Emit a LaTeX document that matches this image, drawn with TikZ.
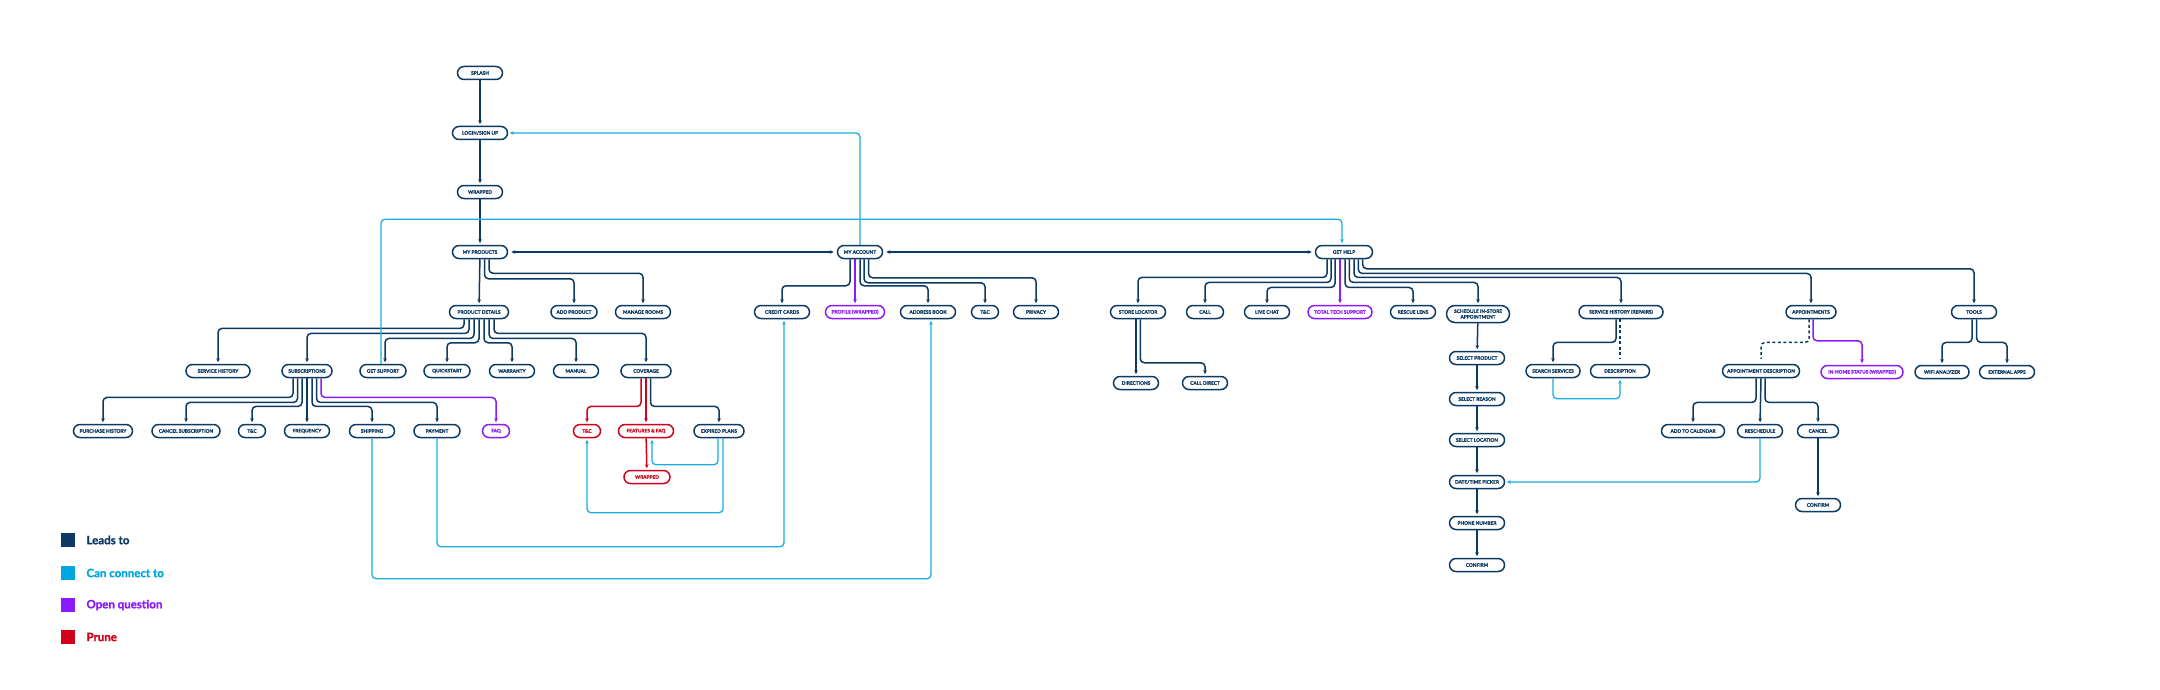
\documentclass[tikz,border=0pt]{standalone}
\usepackage{fontspec}
\setmainfont{Lato}[BoldFeatures={FakeBold=1.2}]
\usetikzlibrary{arrows.meta}
\definecolor{navy}{HTML}{0D3A62}
\definecolor{cyanl}{HTML}{1AADE4}
\definecolor{cyansq}{HTML}{00A6E0}
\definecolor{purp}{HTML}{8C1AFF}
\definecolor{prune}{HTML}{D0021B}
\tikzset{
  box/.style={draw=navy, text=navy, fill=white, rounded corners=6.5pt, minimum height=13pt,
    inner sep=0pt, line width=1.5pt, font=\fontsize{4.8}{5.6}\selectfont\bfseries, align=center},
  pbox/.style={box, draw=purp, text=purp},
  rbox/.style={box, draw=prune, text=prune},
  tip/.style={-{Stealth[length=4pt,width=3.6pt]}},
  lead/.style={draw=navy, line width=1.5pt, rounded corners=4pt, tip, shorten >=1.5pt},
  both/.style={draw=navy, line width=1.5pt, {Stealth[length=4pt,width=3.6pt]}-{Stealth[length=4pt,width=3.6pt]}, shorten >=3pt, shorten <=3pt},
  can/.style={lead, draw=cyanl, line width=1.3pt},
  openq/.style={lead, draw=purp},
  prn/.style={lead, draw=prune},
  dashlead/.style={draw=navy, line width=1.5pt, dash pattern=on 3pt off 2.5pt, rounded corners=4pt, shorten >=5pt},
  legsq/.style={minimum size=14pt, inner sep=0pt},
  legtx/.style={anchor=west, font=\fontsize{11.5}{13}\selectfont\bfseries},
}
\begin{document}
\begin{tikzpicture}[x=1pt,y=-1pt]
\useasboundingbox[fill=white] (0,0) rectangle (2160,690);

% main column
\node[box, minimum width=45pt] (splash) at (480,73) {SPLASH};
\node[box, minimum width=55pt] (login) at (480,133) {LOGIN/SIGN UP};
\node[box, minimum width=45pt] (wrapped) at (480,192) {WRAPPED};
\node[box, minimum width=55pt] (myprod) at (480,252) {MY PRODUCTS};
\node[box, minimum width=45pt] (myacc) at (860,252) {MY ACCOUNT};
\node[box, minimum width=57pt] (gethelp) at (1344,252) {GET HELP};

% level 2
\node[box, minimum width=59pt] (pd) at (479,312) {PRODUCT DETAILS};
\node[box, minimum width=46pt] (addprod) at (574,312) {ADD PRODUCT};
\node[box, minimum width=55pt] (rooms) at (643,312) {MANAGE ROOMS};
\node[box, minimum width=55pt] (cc) at (782,312) {CREDIT CARDS};
\node[pbox, minimum width=59pt] (profile) at (855,312) {PROFILE (WRAPPED)};
\node[box, minimum width=55pt] (addr) at (928,312) {ADDRESS BOOK};
\node[box, minimum width=27pt] (atc) at (985,312) {T\&C};
\node[box, minimum width=45pt] (privacy) at (1036,312) {PRIVACY};
\node[box, minimum width=55pt] (store) at (1138,312) {STORE LOCATOR};
\node[box, minimum width=37pt] (call) at (1205,312) {CALL};
\node[box, minimum width=45pt] (chat) at (1267,312) {LIVE CHAT};
\node[pbox, minimum width=64pt] (tts) at (1340,312) {TOTAL TECH SUPPORT};
\node[box, minimum width=45pt] (rescue) at (1413,312) {RESCUE LENS};
\node[box, minimum width=63pt, minimum height=17pt, rounded corners=8.5pt] (sched) at (1478,314) {SCHEDULE IN-STORE\\APPOINTMENT};
\node[box, minimum width=84pt] (shr) at (1621,312) {SERVICE HISTORY (REPAIRS)};
\node[box, minimum width=50pt] (appts) at (1811,312) {APPOINTMENTS};
\node[box, minimum width=45pt] (tools) at (1974,312) {TOOLS};

% level 3
\node[box, minimum width=64pt] (sh) at (218,371) {SERVICE HISTORY};
\node[box, minimum width=50pt] (subs) at (307,371) {SUBSCRIPTIONS};
\node[box, minimum width=46pt] (gs) at (383,371) {GET SUPPORT};
\node[box, minimum width=46pt] (qs) at (447,371) {QUICKSTART};
\node[box, minimum width=45pt] (warr) at (512,371) {WARRANTY};
\node[box, minimum width=45pt] (manual) at (576,371) {MANUAL};
\node[box, minimum width=50pt] (cov) at (646,371) {COVERAGE};
\node[box, minimum width=45pt] (dirs) at (1136,383) {DIRECTIONS};
\node[box, minimum width=45pt] (calld) at (1205,383) {CALL DIRECT};
\node[box, minimum width=54pt] (ss) at (1553,371) {SEARCH SERVICES};
\node[box, minimum width=59pt] (desc) at (1620,371) {DESCRIPTION};
\node[box, minimum width=77pt] (ad) at (1761,371) {APPOINTMENT DESCRIPTION};
\node[pbox, minimum width=82pt] (ihs) at (1862,372) {IN-HOME STATUS (WRAPPED)};
\node[box, minimum width=54pt] (wifi) at (1942,372) {WIFI ANALYZER};
\node[box, minimum width=55pt] (ext) at (2007,372) {EXTERNAL APPS};

% schedule chain
\node[box, minimum width=55pt] (sp) at (1477,358) {SELECT PRODUCT};
\node[box, minimum width=55pt] (sr) at (1477,399) {SELECT REASON};
\node[box, minimum width=55pt] (sl) at (1477,440) {SELECT LOCATION};
\node[box, minimum width=55pt] (dt) at (1477,482) {DATE/TIME PICKER};
\node[box, minimum width=55pt] (pn) at (1477,523) {PHONE NUMBER};
\node[box, minimum width=55pt] (conf) at (1477,565) {CONFIRM};

% level 4
\node[box, minimum width=59pt] (ph) at (103,431) {PURCHASE HISTORY};
\node[box, minimum width=68pt] (cancelsub) at (186,431) {CANCEL SUBSCRIPTION};
\node[box, minimum width=27pt] (stc) at (252,431) {T\&C};
\node[box, minimum width=45pt] (freq) at (307,431) {FREQUENCY};
\node[box, minimum width=45pt] (ship) at (372,431) {SHIPPING};
\node[box, minimum width=46pt] (pay) at (437,431) {PAYMENT};
\node[pbox, minimum width=27pt] (faq) at (496,431) {FAQ};
\node[rbox, minimum width=27pt] (ctc) at (587,431) {T\&C};
\node[rbox, minimum width=55pt] (ffaq) at (646,431) {FEATURES \& FAQ};
\node[box, minimum width=50pt] (exp) at (719,431) {EXPIRED PLANS};
\node[rbox, minimum width=46pt] (wrapr) at (647,477) {WRAPPED};
\node[box, minimum width=63pt] (addcal) at (1693,431) {ADD TO CALENDAR};
\node[box, minimum width=45pt] (resch) at (1760,431) {RESCHEDULE};
\node[box, minimum width=41pt] (cancel) at (1818,431) {CANCEL};
\node[box, minimum width=45pt] (confirm2) at (1818,505) {CONFIRM};

% ---------- navy edges
\draw[lead] (splash) -- (login);
\draw[lead] (login) -- (wrapped);
\draw[lead] (wrapped) -- (myprod);
\draw[both] (myprod.east) -- (myacc.west);
\draw[both] (myacc.east) -- (gethelp.west);

\draw[lead] (myprod) -- (pd);
\draw[lead] ([xshift=4.5pt]myprod.south) -- ++(0,19.5) -| (addprod.north);
\draw[lead] ([xshift=9pt]myprod.south) -- ++(0,14) -| (rooms.north);

\draw[lead] ([xshift=-15pt]pd.south) -- ++(0,9.2) -| (sh.north);
\draw[lead] ([xshift=-10pt]pd.south) -- ++(0,14.2) -| (subs.north);
\draw[lead] ([xshift=-5pt]pd.south) -- ++(0,19.2) -| ([xshift=2pt]gs.north);
\draw[lead] ([xshift=0pt]pd.south) -- ++(0,23.5) -| (qs.north);
\draw[lead] ([xshift=5pt]pd.south) -- ++(0,23.5) -| (warr.north);
\draw[lead] ([xshift=10pt]pd.south) -- ++(0,19.2) -| (manual.north);
\draw[lead] ([xshift=15pt]pd.south) -- ++(0,14.2) -| (cov.north);

\draw[lead] ([xshift=-14pt]subs.south) -- ++(0,19.2) -| (ph.north);
\draw[lead] ([xshift=-9.5pt]subs.south) -- ++(0,24.2) -| (cancelsub.north);
\draw[lead] ([xshift=-5pt]subs.south) -- ++(0,28.2) -| (stc.north);
\draw[lead] (subs) -- (freq);
\draw[lead] ([xshift=5pt]subs.south) -- ++(0,28.2) -| (ship.north);
\draw[lead] ([xshift=9.5pt]subs.south) -- ++(0,24.2) -| (pay.north);
\draw[openq] ([xshift=14pt]subs.south) -- ++(0,19.2) -| (faq.north);

\draw[prn] ([xshift=-5pt]cov.south) -- ++(0,28.2) -| (ctc.north);
\draw[prn] (cov) -- (ffaq);
\draw[lead] ([xshift=4.5pt]cov.south) -- ++(0,28.2) -| (exp.north);
\draw[prn] (ffaq) -- (wrapr);

\draw[lead] ([xshift=-10pt]myacc.south) -- ++(0,26.5) -| (cc.north);
\draw[openq] ([xshift=-5pt]myacc.south) -- (profile.north);
\draw[lead] ([xshift=0pt]myacc.south) -- ++(0,26.5) -| (addr.north);
\draw[lead] ([xshift=4pt]myacc.south) -- ++(0,23.5) -| (atc.north);
\draw[lead] ([xshift=8.5pt]myacc.south) -- ++(0,18.5) -| (privacy.north);

\draw[lead] ([xshift=-17pt]gethelp.south) -- ++(0,18.2) -| (store.north);
\draw[lead] ([xshift=-13pt]gethelp.south) -- ++(0,23.2) -| (call.north);
\draw[lead] ([xshift=-9pt]gethelp.south) -- ++(0,28.2) -| (chat.north);
\draw[openq] ([xshift=-4pt]gethelp.south) -- (tts.north);
\draw[lead] ([xshift=1pt]gethelp.south) -- ++(0,28.2) -| (rescue.north);
\draw[lead] ([xshift=5.3pt]gethelp.south) -- ++(0,23.2) -| (sched.north);
\draw[lead] ([xshift=10pt]gethelp.south) -- ++(0,18.2) -| (shr.north);
\draw[lead] ([xshift=14.3pt]gethelp.south) -- ++(0,14.2) -| (appts.north);
\draw[lead] ([xshift=18.7pt]gethelp.south) -- ++(0,9.5) -| (tools.north);

\draw[lead] ([xshift=-2pt]store.south) -- (dirs.north);
\draw[lead] ([xshift=2.3pt]store.south) -- ++(0,43.5) -| (calld.north);

\draw[lead] (sched) -- (sp);
\draw[lead] (sp) -- (sr);
\draw[lead] (sr) -- (sl);
\draw[lead] (sl) -- (dt);
\draw[lead] (dt) -- (pn);
\draw[lead] (pn) -- (conf);

\draw[lead] ([xshift=-5pt]shr.south) -- ++(0,23.2) -| (ss.north);
\draw[dashlead] ([xshift=-1pt]shr.south) -- (desc.north);

\draw[dashlead] ([xshift=-2pt]appts.south) -- ++(0,23.2) -| (ad.north);
\draw[openq] ([xshift=2pt]appts.south) -- ++(0,21.5) -| (ihs.north);

\draw[lead] ([xshift=-5pt]ad.south) -- ++(0,24.2) -| (addcal.north);
\draw[lead] (ad.south) -- (resch.north);
\draw[lead] ([xshift=4pt]ad.south) -- ++(0,24.2) -| (cancel.north);
\draw[lead] (cancel) -- (confirm2);

\draw[lead] ([xshift=-2pt]tools.south) -- ++(0,23.2) -| (wifi.north);
\draw[lead] ([xshift=2.7pt]tools.south) -- ++(0,23.2) -| (ext.north);

% ---------- cyan edges
\draw[can] (myacc.north) |- (login.east);
\draw[can] ([xshift=-2pt]gs.north) -- ++(0,-144.5) -| ([xshift=-2pt]gethelp.north);
\draw[can] ([xshift=-1pt]exp.south) -- ++(0,26.5) -| ([xshift=6pt]ffaq.south);
\draw[can] ([xshift=4pt]exp.south) -- ++(0,74.5) -| (ctc.south);
\draw[can] (pay.south) -- ++(0,108.5) -| ([xshift=2pt]cc.south);
\draw[can] (ship.south) -- ++(0,140.5) -| ([xshift=3pt]addr.south);
\draw[can] (ss.south) -- ++(0,20.5) -| (desc.south);
\draw[can] (resch.south) |- (dt.east);

% ---------- legend
\node[legsq, fill=navy] (l1) at (68,540) {};
\node[legtx, text=navy] (t1) at (83,540) {Leads to};
\node[legsq, fill=cyansq] (l2) at (68,573) {};
\node[legtx, text=cyansq] (t2) at (83,573) {Can connect to};
\node[legsq, fill=purp] (l3) at (68,605) {};
\node[legtx, text=purp] (t3) at (83,605) {Open question};
\node[legsq, fill=prune] (l4) at (68,637) {};
\node[legtx, text=prune] (t4) at (83,637) {Prune};
\end{tikzpicture}
\end{document}
